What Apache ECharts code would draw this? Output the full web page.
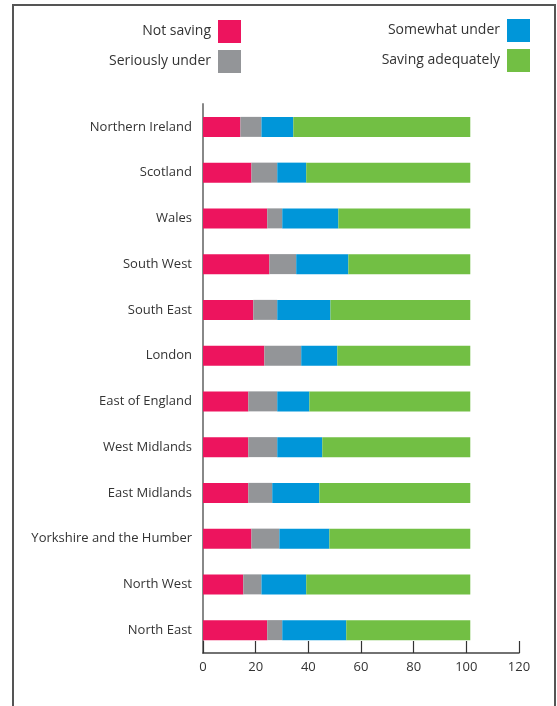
<!DOCTYPE html>
<html>
<head>
<meta charset="utf-8">
<script src="https://cdn.jsdelivr.net/npm/echarts@6/dist/echarts.min.js"></script>
<style>
  html, body { margin: 0; padding: 0; background: #fff; }
  #chart { width: 557px; height: 706px; }
</style>
</head>
<body>
<div id="chart"></div>
<script>
// Regions, listed top to bottom
const regions = [
  'Northern Ireland', 'Scotland', 'Wales', 'South West', 'South East', 'London',
  'East of England', 'West Midlands', 'East Midlands', 'Yorkshire and the Humber',
  'North West', 'North East'
];

// Share of people in each saving group (%)
const notSaving        = [14.2, 18.4, 24.4, 25.2, 19.1, 23.3, 17.2, 17.2, 17.2, 18.4, 15.3, 24.4];
const seriouslyUnder   = [ 8.0,  9.8,  5.7, 10.2,  9.1, 14.0, 11.0, 11.0,  9.1, 10.6,  6.9,  5.7];
const somewhatUnder    = [12.1, 11.0, 21.3, 19.8, 20.2, 13.7, 12.2, 17.1, 17.9, 19.0, 17.0, 24.3];
const savingAdequately = [67.2, 62.3, 50.1, 46.3, 53.1, 50.5, 61.1, 56.2, 57.3, 53.5, 62.3, 47.1];

const xTicks = { min: 0, max: 120, step: 20 };

const FONT = '"Open Sans", "Noto Sans", sans-serif';
const TEXT = '#333333';

const groups = [
  { name: 'Not saving',        data: notSaving,        color: '#ED145E' },
  { name: 'Seriously under',   data: seriouslyUnder,   color: '#939598' },
  { name: 'Somewhat under',    data: somewhatUnder,    color: '#0096D9' },
  { name: 'Saving adequately', data: savingAdequately, color: '#72BF44' }
];

// Legend entries: label on the left, swatch on the right
function legendFor(name, right, top) {
  return {
    data: [name],
    right: right, top: top,
    padding: 0,
    align: 'right',
    icon: 'rect',
    itemWidth: 23, itemHeight: 23,
    selectedMode: false,
    itemStyle: { borderWidth: 0 },
    textStyle: { fontFamily: FONT, fontSize: 14, color: TEXT, padding: [0, 2, 0, 0] }
  };
}

const chart = echarts.init(document.getElementById('chart'), null, { renderer: 'canvas' });

chart.setOption({
  animation: false,
  backgroundColor: '#ffffff',
  legend: [
    legendFor('Not saving', 316, 20),
    legendFor('Seriously under', 316, 50),
    legendFor('Somewhat under', 27, 19),
    legendFor('Saving adequately', 27, 49)
  ],
  graphic: [{
    type: 'rect',
    silent: true,
    shape: { x: 13, y: 5, width: 542, height: 740 },
    style: { fill: 'none', stroke: '#555555', lineWidth: 2 }
  }],
  grid: { left: 203, right: 38, top: 104, bottom: 53 },
  xAxis: {
    type: 'value',
    min: xTicks.min, max: xTicks.max, interval: xTicks.step,
    axisLine: { show: true, lineStyle: { color: '#444444', width: 1.5 } },
    axisTick: { show: true, inside: true, length: 12, lineStyle: { color: '#333333', width: 1.2 } },
    splitLine: { show: false },
    axisLabel: { fontFamily: FONT, fontSize: 13, color: TEXT, margin: 8 }
  },
  yAxis: {
    type: 'category',
    data: regions,
    inverse: true,
    axisLine: { show: true, lineStyle: { color: '#888888', width: 2 } },
    axisTick: { show: false },
    axisLabel: { fontFamily: FONT, fontSize: 13, color: TEXT, margin: 11 }
  },
  series: groups.map(g => ({
    name: g.name,
    type: 'bar',
    stack: 'total',
    barWidth: 20,
    data: g.data,
    itemStyle: { color: g.color },
    emphasis: { disabled: true }
  }))
});
</script>
</body>
</html>
